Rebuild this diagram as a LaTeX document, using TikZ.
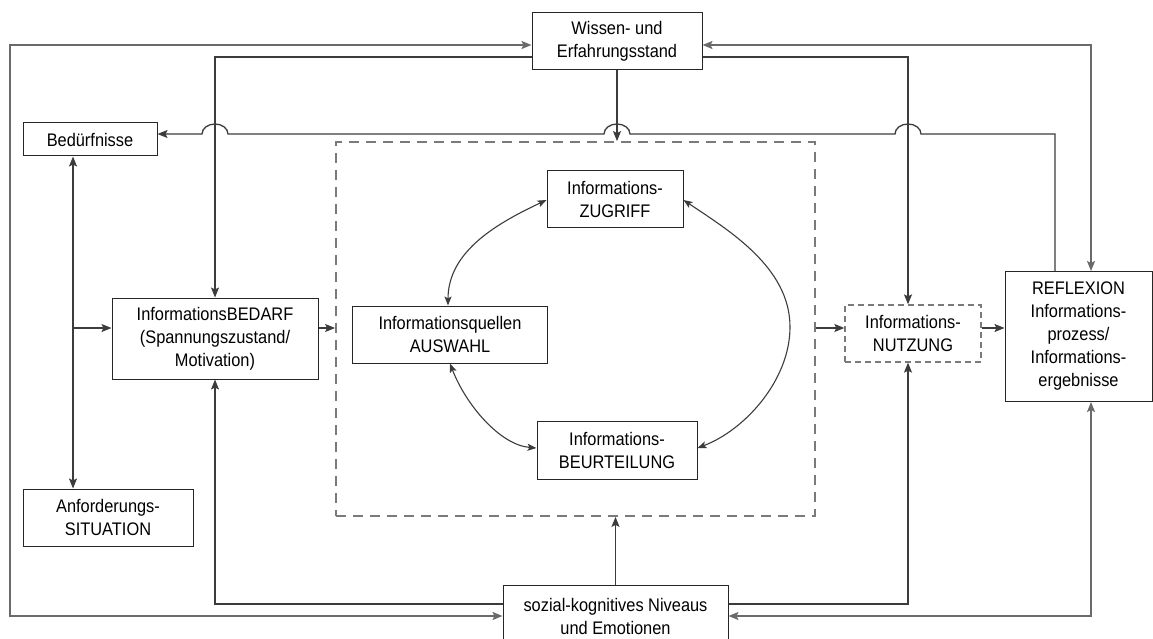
\documentclass[tikz,border=0pt]{standalone}
\usepackage{fontspec}
\setmainfont{Liberation Sans}[FakeStretch=0.9]
\usetikzlibrary{arrows.meta}
\definecolor{linegray}{HTML}{3C3C3C}
\definecolor{outergray}{HTML}{6A6A6A}
\definecolor{dashgray}{HTML}{7A7A7A}
\begin{document}
\begin{tikzpicture}[x=1pt,y=-1pt,
  font=\fontsize{18.2}{23}\selectfont,
  box/.style={draw=black!85, line width=1pt, fill=white, align=center, inner sep=0pt},
  conn/.style={draw=linegray, line width=1.3pt},
  outer/.style={draw=outergray, line width=1.7pt},
  tip/.style={arrows={-Stealth[length=10pt,width=8pt,inset=2pt]}},
  tips/.style={arrows={Stealth[length=10pt,width=8pt,inset=2pt]-Stealth[length=10pt,width=8pt,inset=2pt]}},
  ctips/.style={arrows={Stealth[length=9pt,width=7pt,inset=2pt]-Stealth[length=9pt,width=7pt,inset=2pt]}},
  frame/.style={draw=dashgray, line width=1.8pt, dash pattern=on 10pt off 7pt, inner sep=0pt},
  dbox/.style={box, draw=dashgray, line width=1.3pt, dash pattern=on 6pt off 4pt}
]
\clip (0,0) rectangle (1153,639);
\fill[white] (0,0) rectangle (1153,639);

% helper coordinates
\coordinate (yA) at (0,45);
\coordinate (yB) at (0,57);
\coordinate (yC) at (0,134);
\coordinate (yD) at (0,328);
\coordinate (yF) at (0,604);
\coordinate (yG) at (0,616);
\coordinate (xA) at (73,0);
\coordinate (xB) at (908,0);
\coordinate (xC) at (1055,0);
\coordinate (xD) at (1091,0);

% nodes
\node[frame, minimum width=479pt, minimum height=374pt] (frame) at (575.5,329) {};
\node[box, minimum width=170pt, minimum height=57pt] (wissen) at (617,41.5) {Wissen- und\\Erfahrungsstand};
\node[box, minimum width=134pt, minimum height=33pt] (bed) at (90,139.5) {Bedürfnisse};
\node[box, minimum width=170pt, minimum height=57pt] (anf) at (108,517.5) {Anforderungs-\\SITUATION};
\node[box, minimum width=206pt, minimum height=81pt] (bedarf) at (215,338.5) {InformationsBEDARF\\(Spannungszustand/\\Motivation)};
\node[box, minimum width=136pt, minimum height=56pt] (zug) at (615,199) {Informations-\\ZUGRIFF};
\node[box, minimum width=195pt, minimum height=57pt] (ausw) at (450,334.5) {Informationsquellen\\AUSWAHL};
\node[box, minimum width=160pt, minimum height=58pt] (beur) at (617,450) {Informations-\\BEURTEILUNG};
\node[dbox, minimum width=136pt, minimum height=57pt] (nutz) at (913,333.5) {Informations-\\NUTZUNG};
\node[box, minimum width=147pt, minimum height=130pt] (refl) at (1078.5,336.5) {REFLEXION\\Informations-\\prozess/\\Informations-\\ergebnisse};
\node[box, minimum width=225pt, minimum height=62pt, text depth=0pt] (soz) at (615.5,616) {};
\node[align=center, inner sep=0pt] (soztext) at (615.5,616) {sozial-kognitives Niveaus\\und Emotionen};

% outer loops
\draw[outer, tips] (wissen.west |- yA) -- (10,45) -- (10,616) -- (soz.west |- yG);
\draw[outer, tips] (wissen.east |- yA) -- (1091,45) -- (refl.north -| xD);
\draw[outer, tips] (refl.south -| xD) -- (1091,616) -- (soz.east |- yG);

% inner loops
\draw[conn, tip] (wissen.west |- yB) -- (215,57) -- (bedarf.north);
\draw[conn, tip] (wissen.east |- yB) -- (908,57) -- (nutz.north -| xB);
\draw[conn, tip] (soz.west |- yF) -- (215,604) -- (bedarf.south);
\draw[conn, tip] (soz.east |- yF) -- (908,604) -- (nutz.south -| xB);

% vertical center
\draw[conn, tip] (wissen.south) -- (frame.north -| wissen.south);
\draw[conn, tip] (soz.north) -- (frame.south -| soz.north);

% line with jumps to Beduerfnisse
\draw[conn, tip] (refl.north -| xC) -- (1055,134) -- (921,134)
  arc[start angle=0, end angle=180, x radius=13pt, y radius=10pt] -- (630,134)
  arc[start angle=0, end angle=180, x radius=13pt, y radius=10pt] -- (228,134)
  arc[start angle=0, end angle=180, x radius=13pt, y radius=10pt] -- (bed.east |- yC);

% left side
\coordinate (branch) at (73,328);
\draw[conn, tips] (bed.south -| xA) -- (anf.north -| xA);
\draw[conn, tip] (branch) -- (bedarf.west |- yD);
\draw[conn, tip] (bedarf.east |- yD) -- (frame.west |- yD);
\draw[conn, tip] (frame.east |- yD) -- (nutz.west |- yD);
\draw[conn, tip] (nutz.east |- yD) -- (refl.west |- yD);

% cycle curves
\draw[conn, line width=1.1pt, ctips] (zug.west |- 0,200) .. controls (500,222) and (448,250) .. (ausw.north -| 448,0);
\draw[conn, line width=1.1pt, ctips] (ausw.south -| 450,0) .. controls (466,405) and (500,445) .. (beur.west |- 0,448);
\draw[conn, line width=1.1pt, arrows={Stealth[length=9pt,width=7pt,inset=2pt]-}] (zug.east |- 0,200) .. controls (728,230) and (790,267) .. (790,327);
\draw[conn, line width=1.1pt, arrows={-Stealth[length=9pt,width=7pt,inset=2pt]}] (790,327) .. controls (790,380) and (745,430) .. (beur.east |- 0,448);
\end{tikzpicture}
\end{document}
